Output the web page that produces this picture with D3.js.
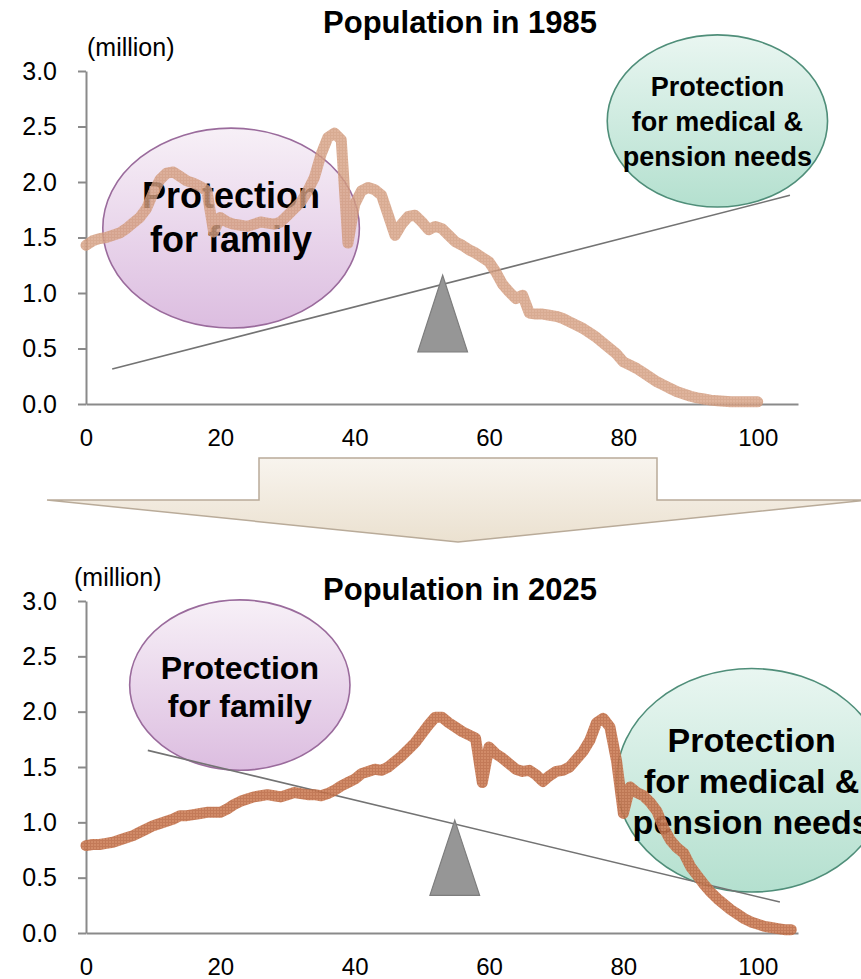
<!DOCTYPE html>
<html>
<head>
<meta charset="utf-8">
<script src="https://cdn.jsdelivr.net/npm/d3@7/dist/d3.min.js"></script>
<style>
  html, body { margin: 0; padding: 0; background: #fff; }
  svg { display: block; font-family: "Liberation Sans", Arial, sans-serif; }
</style>
</head>
<body>
<svg id="chart" width="861" height="979"></svg>
<script>
// Population by single year of age (millions), index = age
const pop1985 = [
  1.43, 1.47, 1.49, 1.50, 1.52, 1.54, 1.58, 1.63, 1.68, 1.76,
  1.90, 2.02, 2.08, 2.09, 2.05, 2.01, 1.99, 1.96, 1.92, 1.55,
  1.68, 1.64, 1.62, 1.61, 1.60, 1.62, 1.64, 1.63, 1.62, 1.64,
  1.70, 1.76, 1.82, 1.92, 2.04, 2.25, 2.40, 2.44, 2.38, 1.45,
  1.80, 1.92, 1.95, 1.93, 1.88, 1.70, 1.52, 1.62, 1.69, 1.70,
  1.64, 1.57, 1.60, 1.58, 1.52, 1.46, 1.43, 1.39, 1.36, 1.32,
  1.28, 1.19, 1.08, 1.01, 0.95, 0.98, 0.82, 0.81, 0.81, 0.80,
  0.79, 0.77, 0.74, 0.71, 0.68, 0.64, 0.60, 0.55, 0.50, 0.45,
  0.38, 0.35, 0.32, 0.28, 0.24, 0.20, 0.17, 0.14, 0.11, 0.09,
  0.07, 0.055, 0.045, 0.035, 0.03, 0.025, 0.02, 0.02, 0.02, 0.02,
  0.02
];
const pop2025 = [
  0.79, 0.80, 0.80, 0.81, 0.82, 0.84, 0.86, 0.88, 0.91, 0.94,
  0.97, 0.99, 1.01, 1.03, 1.06, 1.06, 1.07, 1.08, 1.09, 1.09,
  1.09, 1.12, 1.16, 1.19, 1.21, 1.23, 1.24, 1.25, 1.24, 1.23,
  1.25, 1.27, 1.26, 1.25, 1.25, 1.24, 1.26, 1.29, 1.33, 1.36,
  1.39, 1.44, 1.46, 1.48, 1.47, 1.50, 1.55, 1.60, 1.66, 1.72,
  1.80, 1.88, 1.95, 1.95, 1.90, 1.86, 1.82, 1.79, 1.76, 1.36,
  1.68, 1.62, 1.58, 1.53, 1.48, 1.46, 1.47, 1.43, 1.37, 1.42,
  1.46, 1.47, 1.50, 1.57, 1.64, 1.74, 1.90, 1.94, 1.86, 1.55,
  1.08, 1.32, 1.27, 1.24, 1.18, 1.10, 0.95, 0.84, 0.77, 0.72,
  0.60, 0.52, 0.44, 0.37, 0.31, 0.26, 0.21, 0.17, 0.13, 0.10,
  0.08, 0.06, 0.05, 0.04, 0.03, 0.03
];

const yTicks = [0, 0.5, 1.0, 1.5, 2.0, 2.5, 3.0];
const xTicks = [0, 20, 40, 60, 80, 100];
const titles = ["Population in 1985", "Population in 2025"];
const unitLabel = "(million)";
const familyText = ["Protection", "for family"];
const medicalText = ["Protection", "for medical &", "pension needs"];

// Seesaw annotations, in data units (age, millions)
const lever1985 = [[3.9, 0.315], [104.8, 1.88]];
const lever2025 = [[9.2, 1.65], [103.3, 0.28]];
const fulcrum1985 = [[53.1, 1.16], [56.8, 0.47], [49.4, 0.47]];
const fulcrum2025 = [[54.9, 1.02], [58.6, 0.34], [51.2, 0.34]];
// Bubbles: centre age, centre value, radius in years, radius in millions
const family1985 = [21.6, 1.585, 19.1, 0.90];
const medical1985 = [94.0, 2.55, 16.4, 0.775];
const family2025 = [22.9, 2.24, 16.4, 0.77];
const medical2025 = [99.1, 1.38, 20.1, 1.01];

const svg = d3.select("#chart");
const defs = svg.append("defs");

function vGrad(id, top, bottom) {
  const g = defs.append("linearGradient").attr("id", id)
    .attr("x1", 0).attr("y1", 0).attr("x2", 0).attr("y2", 1);
  g.append("stop").attr("offset", "0%").attr("stop-color", top);
  g.append("stop").attr("offset", "100%").attr("stop-color", bottom);
}
vGrad("gPurple", "#f7f0f7", "#dcbde0");
vGrad("gGreen", "#e9f6f1", "#b4e0cf");
vGrad("gArrow", "#f8f4ee", "#ebe1d0");

// fine cross-hatch texture for the thick population strokes
function hatch(id, base, grid) {
  const pt = defs.append("pattern").attr("id", id).attr("patternUnits", "userSpaceOnUse")
    .attr("width", 3).attr("height", 3);
  pt.append("rect").attr("width", 3).attr("height", 3).attr("fill", base);
  pt.append("rect").attr("width", 3).attr("height", 1).attr("fill", grid);
  pt.append("rect").attr("width", 1).attr("height", 3).attr("fill", grid);
}
hatch("hTop", "rgb(216,164,136)", "rgb(208,152,122)");
hatch("hBottom", "rgb(204,126,88)", "rgb(188,108,70)");

const panels = [
  {
    data: pop1985, title: titles[0], yTop: 71, yBottom: 404,
    titleY: 33, unitX: 87, unitY: 56,
    lever: lever1985, fulcrum: fulcrum1985,
    family: family1985, familySize: 36, familyBase: 208, familyGap: 44,
    medical: medical1985, medicalSize: 27, medicalGap: 35,
    lineStroke: "url(#hTop)", lineOpacity: 0.82
  },
  {
    data: pop2025, title: titles[1], yTop: 601, yBottom: 933,
    titleY: 600, unitX: 74, unitY: 586,
    lever: lever2025, fulcrum: fulcrum2025,
    family: family2025, familySize: 32, familyBase: 679, familyGap: 38,
    medical: medical2025, medicalSize: 34, medicalGap: 41,
    lineStroke: "url(#hBottom)", lineOpacity: 0.9
  }
];

const xLeft = 86, xRight = 798;
const x = d3.scaleLinear().domain([0, 106]).range([xLeft, xRight]);

panels.forEach((p) => {
  const y = d3.scaleLinear().domain([0, 3]).range([p.yBottom, p.yTop]);
  const g = svg.append("g");

  // axes
  const yAxis = g.append("g").attr("transform", `translate(${xLeft},0)`)
    .call(d3.axisLeft(y).tickValues(yTicks).tickFormat(d3.format(".1f"))
      .tickSizeInner(8).tickSizeOuter(0).tickPadding(21));
  yAxis.select(".domain").attr("stroke", "#8a8a8a").attr("stroke-width", 2);
  yAxis.selectAll(".tick line").attr("stroke", "#8a8a8a").attr("stroke-width", 2);
  yAxis.selectAll(".tick text").attr("font-size", 25).attr("fill", "#000")
    .attr("font-family", "Liberation Sans, Arial, sans-serif");

  const xAxis = g.append("g").attr("transform", `translate(0,${p.yBottom})`)
    .call(d3.axisBottom(x).tickValues(xTicks).tickSize(0).tickPadding(25));
  xAxis.select(".domain").attr("stroke", "#8a8a8a").attr("stroke-width", 2);
  xAxis.selectAll(".tick text").attr("font-size", 24).attr("fill", "#000")
    .attr("font-family", "Liberation Sans, Arial, sans-serif");

  // titles
  g.append("text").attr("x", 460).attr("y", p.titleY).attr("text-anchor", "middle")
    .attr("font-size", 31).attr("font-weight", "bold").text(p.title);
  g.append("text").attr("x", p.unitX).attr("y", p.unitY)
    .attr("font-size", 25).text(unitLabel);

  // bubbles
  function bubble(b, fill, stroke, lines, size, gap, baseY) {
    const cx = x(b[0]), cy = y(b[1]);
    const rx = x(b[2]) - x(0), ry = y(0) - y(b[3]);
    g.append("ellipse").attr("cx", cx).attr("cy", cy).attr("rx", rx).attr("ry", ry)
      .attr("fill", fill).attr("stroke", stroke).attr("stroke-width", 1.6);
    const first = baseY !== undefined ? baseY : cy - (lines.length - 1) * gap / 2 + size * 0.36;
    lines.forEach((t, i) => {
      g.append("text").attr("x", cx).attr("y", first + i * gap)
        .attr("text-anchor", "middle").attr("font-size", size).attr("font-weight", "bold")
        .attr("fill", "#000").text(t);
    });
  }
  bubble(p.family, "url(#gPurple)", "#9a6b9c", familyText, p.familySize, p.familyGap, p.familyBase);
  bubble(p.medical, "url(#gGreen)", "#4f8e79", medicalText, p.medicalSize, p.medicalGap);

  // seesaw
  g.append("line")
    .attr("x1", x(p.lever[0][0])).attr("y1", y(p.lever[0][1]))
    .attr("x2", x(p.lever[1][0])).attr("y2", y(p.lever[1][1]))
    .attr("stroke", "#737373").attr("stroke-width", 1.6);
  g.append("path")
    .attr("d", d3.line().x(d => x(d[0])).y(d => y(d[1]))(p.fulcrum) + "Z")
    .attr("fill", "#969696").attr("stroke", "#7d7d7d").attr("stroke-width", 1.2);

  // population line
  g.append("path")
    .datum(p.data)
    .attr("d", d3.line().x((d, i) => x(i)).y(d => y(d)))
    .attr("fill", "none").attr("stroke", p.lineStroke).attr("stroke-opacity", p.lineOpacity)
    .attr("stroke-width", 11).attr("stroke-linejoin", "round").attr("stroke-linecap", "round");
});

// downward arrow between the two panels
const arrow = { stemL: 259, stemR: 657, top: 458, shoulder: 500, tip: 542, tipX: 458, headL: 47, headR: 869 };
svg.append("path")
  .attr("d", `M${arrow.stemL},${arrow.top} L${arrow.stemR},${arrow.top} L${arrow.stemR},${arrow.shoulder}
    L${arrow.headR},${arrow.shoulder} L${arrow.tipX},${arrow.tip} L${arrow.headL},${arrow.shoulder}
    L${arrow.stemL},${arrow.shoulder} Z`)
  .attr("fill", "url(#gArrow)").attr("stroke", "#b9ab99").attr("stroke-width", 1.5);
</script>
</body>
</html>
